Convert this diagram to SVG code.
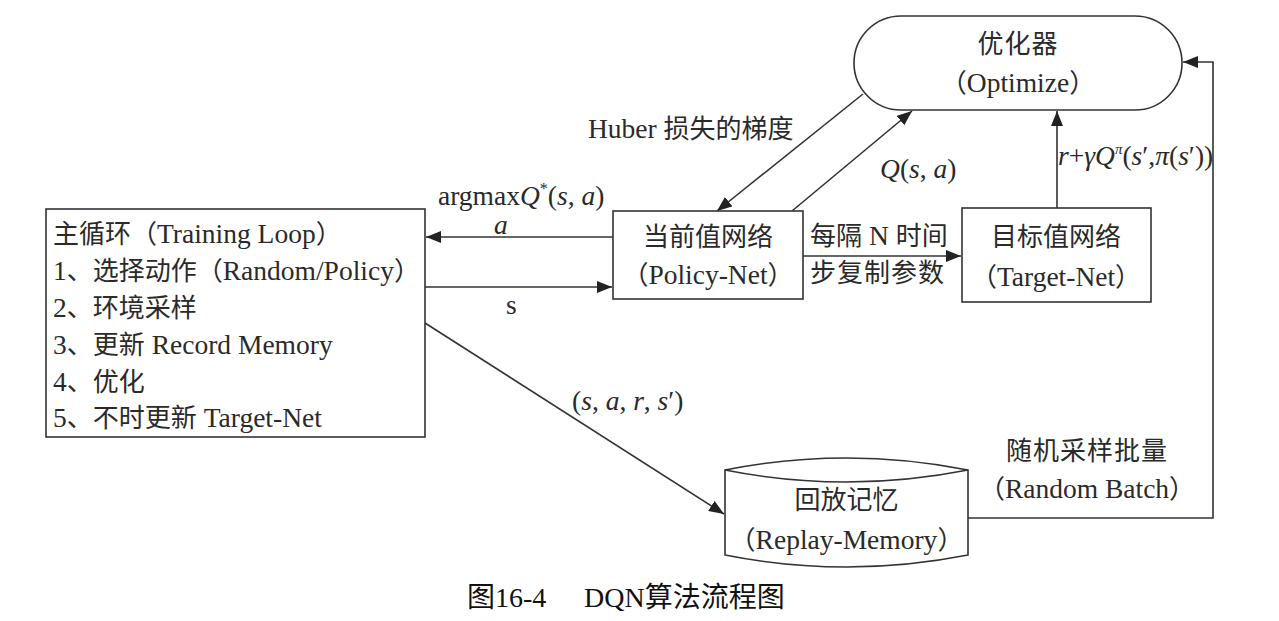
<svg xmlns="http://www.w3.org/2000/svg" width="1279" height="621" viewBox="0 0 1279 621">
<style>
text{font-family:"Liberation Serif","Noto Sans CJK SC",serif;font-size:27.5px;fill:#2a2a2a}
.k{font-size:26px}
.c{text-anchor:middle}
.i{font-style:italic}
.box{fill:#fff;stroke:#333;stroke-width:1.6}
.ln{fill:none;stroke:#333;stroke-width:1.6}
.cap{font-size:28px;fill:#111}
</style>
<defs>
<marker id="ah" markerUnits="userSpaceOnUse" markerWidth="16" markerHeight="12" refX="15" refY="6" orient="auto">
<path d="M0,0 L15,6 L0,12 Z" fill="#222"/>
</marker>
</defs>
<rect width="1279" height="621" fill="#fff"/>

<g id="connectors">
<line class="ln" x1="613" y1="237" x2="426" y2="237" marker-end="url(#ah)"/>
<line class="ln" x1="425" y1="287" x2="612" y2="287" marker-end="url(#ah)"/>
<line class="ln" x1="803" y1="256" x2="961" y2="256" marker-end="url(#ah)"/>
<line class="ln" x1="863" y1="94" x2="717" y2="211" marker-end="url(#ah)"/>
<line class="ln" x1="792" y1="211" x2="912" y2="111" marker-end="url(#ah)"/>
<line class="ln" x1="1057" y1="208" x2="1057" y2="111" marker-end="url(#ah)"/>
<polyline class="ln" points="968,518 1213,518 1213,62 1183,62" marker-end="url(#ah)"/>
<line class="ln" x1="425" y1="323" x2="724" y2="514" marker-end="url(#ah)"/>
<text x="438" y="205">argmax<tspan class="i">Q</tspan><tspan font-size="16" dy="-11">*</tspan><tspan dy="11">(</tspan><tspan class="i">s</tspan>, <tspan class="i">a</tspan>)</text>
<text class="i" x="494" y="234">a</text>
<text x="506" y="314">s</text>
<text x="588" y="138">Huber <tspan class="k">损失的梯度</tspan></text>
<text x="880" y="178"><tspan class="i">Q</tspan>(<tspan class="i">s</tspan>, <tspan class="i">a</tspan>)</text>
<text x="810" y="245"><tspan class="k">每隔</tspan> N <tspan class="k">时间</tspan></text>
<text x="810" y="282" class="k" style="letter-spacing:1px">步复制参数</text>
<text x="1058" y="165"><tspan class="i">r</tspan>+<tspan class="i">γQ</tspan><tspan class="i" font-size="15" dy="-11">π</tspan><tspan dy="11">(</tspan><tspan class="i">s</tspan>′,<tspan class="i">π</tspan>(<tspan class="i">s</tspan>′))</text>
<text x="572" y="410">(<tspan class="i">s</tspan>, <tspan class="i">a</tspan>, <tspan class="i">r</tspan>, <tspan class="i">s</tspan>′)</text>
<text class="c k" x="1087" y="460" style="letter-spacing:1px">随机采样批量</text>
<text class="c" x="1087" y="498"><tspan class="k">（</tspan>Random Batch<tspan class="k">）</tspan></text>
</g>

<g id="main-loop">
<rect class="box" x="46" y="209" width="379" height="228"/>
<text x="53" y="243"><tspan class="k">主循环（</tspan>Training Loop<tspan class="k">）</tspan></text>
<text x="53" y="280">1<tspan class="k">、选择动作（</tspan>Random/Policy<tspan class="k">）</tspan></text>
<text x="53" y="317">2<tspan class="k">、环境采样</tspan></text>
<text x="53" y="354">3<tspan class="k">、更新</tspan> Record Memory</text>
<text x="53" y="391">4<tspan class="k">、优化</tspan></text>
<text x="53" y="427">5<tspan class="k">、不时更新</tspan> Target-Net</text>
</g>

<g id="optimizer">
<rect class="box" x="854" y="16" width="328" height="94" rx="47" ry="47"/>
<text class="c k" x="1018" y="53" style="letter-spacing:1px">优化器</text>
<text class="c" x="1018" y="92"><tspan class="k">（</tspan>Optimize<tspan class="k">）</tspan></text>
</g>

<g id="policy-net">
<rect class="box" x="613" y="211" width="190" height="88"/>
<text class="c k" x="708" y="246">当前值网络</text>
<text class="c" x="708" y="284"><tspan class="k">（</tspan>Policy-Net<tspan class="k">）</tspan></text>
</g>

<g id="target-net">
<rect class="box" x="962" y="208" width="189" height="94"/>
<text class="c k" x="1056" y="246">目标值网络</text>
<text class="c" x="1056" y="286"><tspan class="k">（</tspan>Target-Net<tspan class="k">）</tspan></text>
</g>

<g id="replay-memory">
<path class="box" d="M725,470 Q846.5,446 968,470 L968,555 Q846.5,579 725,555 Z"/>
<path class="ln" d="M725,470 Q846.5,494 968,470"/>
<text class="c k" x="846.5" y="509">回放记忆</text>
<text class="c" x="846.5" y="549"><tspan class="k">（</tspan>Replay-Memory<tspan class="k">）</tspan></text>
</g>

<g id="caption">
<text class="cap" x="467" y="607">图16-4</text>
<text class="cap" x="584" y="607">DQN算法流程图</text>
</g>
</svg>
